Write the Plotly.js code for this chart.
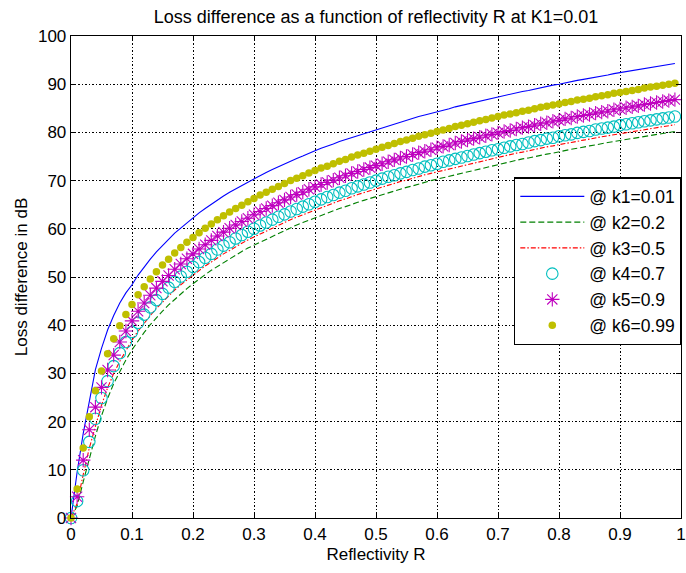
<!DOCTYPE html>
<html>
<head>
<meta charset="utf-8">
<script src="https://cdn.plot.ly/plotly-3.0.1.min.js"></script>
<style>
html,body{margin:0;padding:0;background:#fff;}
#chart{width:686px;height:573px;}
</style>
</head>
<body>
<div id="chart"></div>
<script>
const R = [0,0.01,0.02,0.03,0.04,0.05,0.06,0.07,0.08,0.09,
0.10,0.11,0.12,0.13,0.14,0.15,0.16,0.17,0.18,0.19,
0.20,0.21,0.22,0.23,0.24,0.25,0.26,0.27,0.28,0.29,
0.30,0.31,0.32,0.33,0.34,0.35,0.36,0.37,0.38,0.39,
0.40,0.41,0.42,0.43,0.44,0.45,0.46,0.47,0.48,0.49,
0.50,0.51,0.52,0.53,0.54,0.55,0.56,0.57,0.58,0.59,
0.60,0.61,0.62,0.63,0.64,0.65,0.66,0.67,0.68,0.69,
0.70,0.71,0.72,0.73,0.74,0.75,0.76,0.77,0.78,0.79,
0.80,0.81,0.82,0.83,0.84,0.85,0.86,0.87,0.88,0.89,
0.90,0.91,0.92,0.93,0.94,0.95,0.96,0.97,0.98,0.99];

const k1 = [0, 9.5, 17.5, 24.5, 30.8, 35.2, 39.0, 42.0, 44.6, 46.7,
48.4, 50.4, 52.1, 53.7, 55.2, 56.6, 57.8, 59.1, 60.2, 61.3,
62.3, 63.3, 64.2, 65.1, 66.0, 66.8, 67.6, 68.3, 69.0, 69.7,
70.4, 71.1, 71.7, 72.3, 72.9, 73.5, 74.1, 74.6, 75.1, 75.7,
76.2, 76.7, 77.1, 77.6, 78.1, 78.5, 79.0, 79.4, 79.8, 80.2,
80.6, 81.0, 81.4, 81.8, 82.2, 82.5, 82.9, 83.3, 83.6, 83.9,
84.3, 84.6, 84.9, 85.3, 85.6, 85.9, 86.2, 86.5, 86.8, 87.1,
87.4, 87.7, 87.9, 88.2, 88.5, 88.7, 89.0, 89.3, 89.5, 89.8,
90.0, 90.3, 90.5, 90.8, 91.0, 91.2, 91.5, 91.7, 91.9, 92.2,
92.4, 92.6, 92.8, 93.0, 93.3, 93.5, 93.7, 93.9, 94.1, 94.3];

const k2 = [0, 2.5, 7.5, 12.5, 17.0, 21.2, 24.8, 27.9, 30.5, 32.8,
34.9, 36.8, 38.5, 40.1, 41.6, 42.9, 44.2, 45.4, 46.5, 47.6,
48.6, 49.6, 50.5, 51.4, 52.2, 53.0, 53.8, 54.5, 55.3, 56.0,
56.6, 57.3, 57.9, 58.5, 59.1, 59.7, 60.2, 60.8, 61.3, 61.8,
62.3, 62.8, 63.3, 63.7, 64.2, 64.6, 65.1, 65.5, 65.9, 66.3,
66.7, 67.1, 67.5, 67.9, 68.2, 68.6, 68.9, 69.3, 69.6, 70.0,
70.3, 70.6, 71.0, 71.3, 71.6, 71.9, 72.2, 72.5, 72.8, 73.1,
73.4, 73.6, 73.9, 74.2, 74.5, 74.7, 75.0, 75.2, 75.5, 75.7,
76.0, 76.2, 76.5, 76.7, 77.0, 77.2, 77.4, 77.7, 77.9, 78.1,
78.3, 78.5, 78.8, 79.0, 79.2, 79.4, 79.6, 79.8, 80.0, 80.2];

const k3 = [0, 3.0, 9.0, 14.5, 19.0, 23.4, 27.0, 30.0, 32.5, 34.8,
36.9, 38.8, 40.5, 42.0, 43.5, 44.8, 46.1, 47.3, 48.4, 49.4,
50.4, 51.4, 52.3, 53.1, 54.0, 54.8, 55.5, 56.3, 57.0, 57.7,
58.3, 59.0, 59.6, 60.2, 60.8, 61.3, 61.9, 62.4, 62.9, 63.4,
63.9, 64.4, 64.9, 65.3, 65.8, 66.2, 66.7, 67.1, 67.5, 67.9,
68.3, 68.7, 69.1, 69.4, 69.8, 70.1, 70.5, 70.8, 71.2, 71.5,
71.8, 72.2, 72.5, 72.8, 73.1, 73.4, 73.7, 74.0, 74.3, 74.6,
74.8, 75.1, 75.4, 75.7, 75.9, 76.2, 76.5, 76.7, 77.0, 77.2,
77.5, 77.7, 77.9, 78.2, 78.4, 78.6, 78.9, 79.1, 79.3, 79.5,
79.8, 80.0, 80.2, 80.4, 80.6, 80.8, 81.0, 81.2, 81.4, 81.6];

const k4 = [0, 3.5, 9.9, 15.8, 20.6, 24.9, 28.4, 31.5, 34.2, 36.5,
38.6, 40.5, 42.2, 43.7, 45.2, 46.5, 47.8, 49.0, 50.1, 51.1,
52.1, 53.1, 54.0, 54.8, 55.7, 56.5, 57.2, 58.0, 58.7, 59.4,
60.0, 60.7, 61.3, 61.9, 62.5, 63.0, 63.6, 64.1, 64.6, 65.1,
65.6, 66.1, 66.6, 67.0, 67.5, 67.9, 68.4, 68.8, 69.2, 69.6,
70.0, 70.4, 70.8, 71.1, 71.5, 71.8, 72.2, 72.5, 72.9, 73.2,
73.5, 73.9, 74.2, 74.5, 74.8, 75.1, 75.4, 75.7, 76.0, 76.3,
76.5, 76.8, 77.1, 77.4, 77.6, 77.9, 78.2, 78.4, 78.7, 78.9,
79.2, 79.4, 79.6, 79.9, 80.1, 80.3, 80.6, 80.8, 81.0, 81.2,
81.5, 81.7, 81.9, 82.1, 82.3, 82.5, 82.7, 82.9, 83.1, 83.3];

const k5 = [0, 4.4, 12.0, 18.3, 23.0, 27.1, 30.7, 33.8, 36.5, 38.8,
40.9, 42.9, 44.6, 46.2, 47.7, 49.1, 50.3, 51.6, 52.7, 53.8,
54.8, 55.8, 56.7, 57.6, 58.5, 59.3, 60.1, 60.8, 61.5, 62.2,
62.9, 63.6, 64.2, 64.8, 65.4, 66.0, 66.6, 67.1, 67.6, 68.2,
68.7, 69.2, 69.6, 70.1, 70.6, 71.0, 71.5, 71.9, 72.3, 72.7,
73.1, 73.5, 73.9, 74.3, 74.7, 75.0, 75.4, 75.8, 76.1, 76.4,
76.8, 77.1, 77.4, 77.8, 78.1, 78.4, 78.7, 79.0, 79.3, 79.6,
79.9, 80.2, 80.4, 80.7, 81.0, 81.2, 81.5, 81.8, 82.0, 82.3,
82.5, 82.8, 83.0, 83.3, 83.5, 83.7, 84.0, 84.2, 84.4, 84.7,
84.9, 85.1, 85.3, 85.5, 85.8, 86.0, 86.2, 86.4, 86.6, 86.8];

const k6 = [0, 6.0, 14.5, 21.0, 26.4, 30.5, 34.1, 37.2, 39.9, 42.2,
44.3, 46.3, 48.0, 49.6, 51.1, 52.5, 53.7, 55.0, 56.1, 57.2,
58.2, 59.2, 60.1, 61.0, 61.9, 62.7, 63.5, 64.2, 64.9, 65.6,
66.3, 67.0, 67.6, 68.2, 68.8, 69.4, 70.0, 70.5, 71.0, 71.6,
72.1, 72.6, 73.0, 73.5, 74.0, 74.4, 74.9, 75.3, 75.7, 76.1,
76.5, 76.9, 77.3, 77.7, 78.1, 78.4, 78.8, 79.2, 79.5, 79.8,
80.2, 80.5, 80.8, 81.2, 81.5, 81.8, 82.1, 82.4, 82.7, 83.0,
83.3, 83.6, 83.8, 84.1, 84.4, 84.6, 84.9, 85.2, 85.4, 85.7,
85.9, 86.2, 86.4, 86.7, 86.9, 87.1, 87.4, 87.6, 87.8, 88.1,
88.3, 88.5, 88.7, 88.9, 89.2, 89.4, 89.6, 89.8, 90.0, 90.2];

const names = ['@ k1=0.01','@ k2=0.2','@ k3=0.5','@ k4=0.7','@ k5=0.9','@ k6=0.99'];
const titleText = 'Loss difference as a function of reflectivity R at K1=0.01';
const xTitle = 'Reflectivity R';
const yTitle = 'Loss difference in dB';

const FONT = '"Liberation Sans", Arial, Helvetica, sans-serif';

const traces = [
  {x:R, y:k1, name:names[0], mode:'lines',
   line:{color:'#0000ff', width:1.1}},
  {x:R, y:k2, name:names[1], mode:'lines',
   line:{color:'#008000', width:1.1, dash:'6px,3px'}},
  {x:R, y:k3, name:names[2], mode:'lines',
   line:{color:'#ff0000', width:1.1, dash:'5px,2px,1.5px,2px'}},
  {x:R, y:k4, name:names[3], mode:'markers', cliponaxis:false,
   marker:{symbol:'circle-open', size:11.5, color:'#00bfbf', line:{width:1.1, color:'#00bfbf'}}},
  {x:R, y:k5, name:names[4], mode:'markers', cliponaxis:false,
   marker:{symbol:'asterisk-open', size:12, color:'#bf00bf', line:{width:1.1, color:'#bf00bf'}}},
  {x:R, y:k6, name:names[5], mode:'markers', cliponaxis:false,
   marker:{symbol:'circle', size:7.5, color:'#bfbf00', line:{width:0}}}
];

const axisCommon = {
  showline:true, linecolor:'#000', linewidth:1.3, mirror:'ticks',
  ticks:'inside', ticklen:5, tickcolor:'#000', tickwidth:1,
  showgrid:true, gridcolor:'#000', gridwidth:1, griddash:'1.5px,2px',
  zeroline:false, ticklabeloverflow:'allow',
  tickfont:{family:FONT, size:17, color:'#000'}
};

const layout = {
  width:686, height:573,
  margin:{l:71, r:5, t:36, b:55, pad:0},
  paper_bgcolor:'#fff', plot_bgcolor:'#fff',
  font:{family:FONT, color:'#000'},
  title:{text:titleText, font:{family:FONT, size:18, color:'#000'},
         x:0.5, xref:'paper', y:1-17/573, yref:'container', yanchor:'middle'},
  xaxis:Object.assign({}, axisCommon, {range:[0,1], dtick:0.1, tick0:0,
         title:{text:xTitle, font:{family:FONT, size:17, color:'#000'}, standoff:5}}),
  yaxis:Object.assign({}, axisCommon, {range:[0,100], dtick:10, tick0:0,
         title:{text:yTitle, font:{family:FONT, size:17, color:'#000'}, standoff:6}}),
  legend:{x:1, xanchor:'right', xref:'paper', y:0.707, yanchor:'top', yref:'paper',
          bgcolor:'#fff', bordercolor:'#000', borderwidth:1.3,
          font:{family:FONT, size:17.5, color:'#000'},
          itemwidth:64, traceorder:'normal'},
  showlegend:true
};

Plotly.newPlot('chart', traces, layout, {displayModeBar:false, staticPlot:true});
</script>
</body>
</html>
